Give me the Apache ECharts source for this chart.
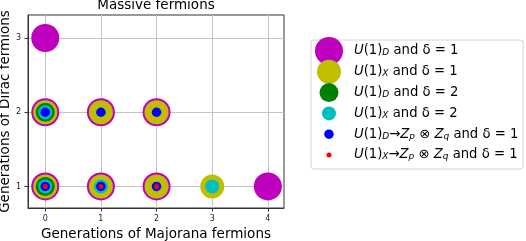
<!DOCTYPE html>
<html>
<head>
<meta charset="utf-8">
<script src="https://cdn.jsdelivr.net/npm/echarts@6/dist/echarts.min.js"></script>
<style>
  html, body { margin: 0; padding: 0; background: #fff; }
  #chart { width: 526px; height: 241px; }
</style>
</head>
<body>
<div id="chart"></div>
<script>
// tick values on both axes
const xTicks = [0, 1, 2, 3, 4];
const yTicks = [1, 2, 3];

// [majorana generations, dirac generations] for each case
const u1D_delta1 = [[0, 3], [0, 2], [1, 2], [2, 2], [0, 1], [1, 1], [2, 1], [4, 1]];
const u1X_delta1 = [[0, 2], [1, 2], [2, 2], [0, 1], [1, 1], [2, 1], [3, 1]];
const u1D_delta2 = [[0, 2], [0, 1]];
const u1X_delta2 = [[0, 2], [0, 1], [1, 1], [3, 1]];
const u1D_zpzq = [[0, 2], [1, 2], [2, 2], [0, 1], [1, 1], [2, 1]];
const u1X_zpzq = [[0, 1], [1, 1], [2, 1]];

const seriesNames = ['U1D_d1', 'U1X_d1', 'U1D_d2', 'U1X_d2', 'U1D_Z', 'U1X_Z'];
const legendLabels = [
    '{it|U}(1){sub|D} and δ = 1',
    '{it|U}(1){sub|X} and δ = 1',
    '{it|U}(1){sub|D} and δ = 2',
    '{it|U}(1){sub|X} and δ = 2',
    '{it|U}(1){sub|D}→{it|Z}{sub|p} ⊗ {it|Z}{sub|q} and δ = 1',
    '{it|U}(1){sub|X}→{it|Z}{sub|p} ⊗ {it|Z}{sub|q} and δ = 1'
];

const allData = [u1D_delta1, u1X_delta1, u1D_delta2, u1X_delta2, u1D_zpzq, u1X_zpzq];
const colors = ['#bf00bf', '#bfbf00', '#008000', '#00bfbf', '#0000ff', '#ff0000'];
const sizes = [28, 24, 19, 14, 9.5, 5];

// circle inside a fixed 35x30 box so every legend icon keeps its own size
function circleIcon(d) {
    const r = d / 2;
    return `path://M0,0M35,30M${15 - r},15A${r},${r},0,1,1,${15 + r},15A${r},${r},0,1,1,${15 - r},15Z`;
}

const font = 'DejaVu Sans';
const chart = echarts.init(document.getElementById('chart'));

const option = {
    animation: false,
    backgroundColor: '#fff',
    title: {
        text: 'Massive fermions',
        left: 156,
        top: -2,
        padding: 0,
        textAlign: 'center',
        textStyle: { fontFamily: font, fontSize: 13.5, fontWeight: 'normal', color: '#000' }
    },
    grid: {
        left: 28, top: 15, right: 242, bottom: 33,
        show: true, borderColor: '#333', borderWidth: 1,
        outerBoundsMode: 'none'
    },
    xAxis: {
        type: 'value',
        min: -0.31, max: 4.29,
        minInterval: 1, maxInterval: 1,
        name: 'Generations of Majorana fermions',
        nameLocation: 'middle',
        nameGap: 16,
        nameTextStyle: { fontFamily: font, fontSize: 13.5, color: '#000' },
        axisLine: { show: true, onZero: false, lineStyle: { color: '#333' } },
        axisTick: { show: true, length: 3.5, customValues: xTicks, lineStyle: { color: '#333' } },
        axisLabel: { customValues: xTicks, fontFamily: font, fontSize: 8, color: '#222', margin: 7 },
        splitLine: { show: true, lineStyle: { color: '#c4c4c4', width: 1 } }
    },
    yAxis: {
        type: 'value',
        min: 0.71, max: 3.31,
        minInterval: 1, maxInterval: 1,
        name: 'Generations of Dirac fermions',
        nameLocation: 'middle',
        nameGap: 13,
        nameTextStyle: { fontFamily: font, fontSize: 13.5, color: '#000' },
        axisLine: { show: true, onZero: false, lineStyle: { color: '#333' } },
        axisTick: { show: true, length: 3.5, customValues: yTicks, lineStyle: { color: '#333' } },
        axisLabel: { customValues: yTicks, fontFamily: font, fontSize: 8, color: '#222', margin: 7 },
        splitLine: { show: true, lineStyle: { color: '#c4c4c4', width: 1 } }
    },
    legend: {
        orient: 'vertical',
        left: 314,
        top: 36,
        padding: 0,
        itemWidth: 35,
        itemHeight: 30,
        itemGap: -9.2,
        selectedMode: false,
        data: seriesNames.map((n, i) => ({ name: n, icon: circleIcon(sizes[i]) })),
        formatter: name => legendLabels[seriesNames.indexOf(name)],
        textStyle: {
            fontFamily: font, fontSize: 13.2, color: '#000',
            rich: {
                it: { fontFamily: font, fontSize: 13.2, fontStyle: 'italic', color: '#000' },
                sub: { fontFamily: font, fontSize: 9, fontStyle: 'italic', color: '#000', verticalAlign: 'bottom', lineHeight: 9 }
            }
        },
        z: 5
    },
    graphic: [{
        type: 'rect',
        shape: { x: 311, y: 40, width: 212, height: 129, r: 3 },
        style: { fill: '#fff', stroke: '#d4d4d4', lineWidth: 1 },
        z: 0
    }],
    series: allData.map((d, i) => ({
        name: seriesNames[i],
        type: 'scatter',
        data: d,
        symbol: 'circle',
        symbolSize: sizes[i],
        itemStyle: { color: colors[i], opacity: 1 },
        emphasis: { disabled: true }
    }))
};

chart.setOption(option);
</script>
</body>
</html>
